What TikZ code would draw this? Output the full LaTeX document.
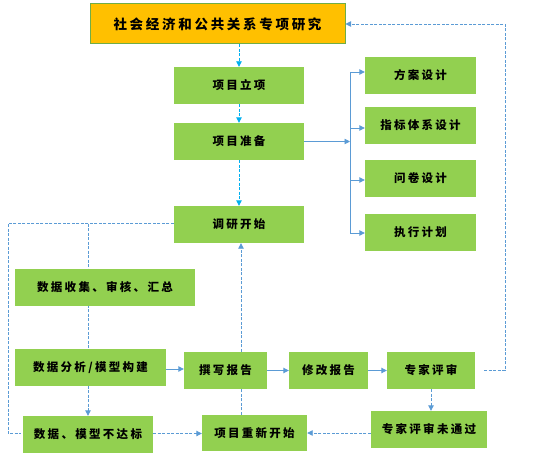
\documentclass[tikz,border=0pt]{standalone}
\usepackage{fontspec}
\setmainfont{Noto Sans CJK SC}[LetterSpace=20]
\usetikzlibrary{arrows.meta,backgrounds}
\definecolor{boxgreen}{HTML}{92D050}
\definecolor{topfill}{HTML}{FFC000}
\definecolor{topedge}{HTML}{70AD47}
\definecolor{lblue}{HTML}{5B9BD5}
\definecolor{cyanl}{HTML}{00B0F0}
\tikzset{
  gbox/.style={fill=boxgreen, draw=none, minimum height=37pt, inner sep=0pt, font=\fontsize{11.5pt}{13pt}\selectfont\bfseries},
  tip/.style={-{Triangle[width=5.5pt,length=5.5pt]}},
  solidcon/.style={draw=lblue, line width=0.9pt},
  dashcon/.style={draw=lblue, line width=0.9pt, dash pattern=on 3pt off 1.5pt},
  cyancon/.style={draw=cyanl, line width=0.9pt, dash pattern=on 3pt off 1.5pt},
}
\begin{document}
\begin{tikzpicture}[x=1pt,y=-1pt]
\useasboundingbox (0,0) rectangle (554,460);
\node[fill=topfill, draw=topedge, line width=1pt, minimum width=255pt, minimum height=40pt, inner sep=0pt, font=\fontsize{13.5pt}{15pt}\selectfont\bfseries] (top) at (217.5,24) {社会经济和公共关系专项研究};
\node[gbox, minimum width=130pt] (lix) at (239,85.5) {项目立项};
\node[gbox, minimum width=130pt] (zhunbei) at (239,141.5) {项目准备};
\node[gbox, minimum width=130pt] (diaoyan) at (239,224.5) {调研开始};
\node[gbox, minimum width=111pt] (fangan) at (420.5,75.5) {方案设计};
\node[gbox, minimum width=111pt] (zhibiao) at (420.5,125.5) {指标体系设计};
\node[gbox, minimum width=111pt] (wenjuan) at (420.5,178.5) {问卷设计};
\node[gbox, minimum width=111pt] (zhixing) at (420.5,232) {执行计划};
\node[gbox, minimum width=180pt] (shouji) at (105,287.5) {数据收集、审核、汇总};
\node[gbox, minimum width=151pt] (fenxi) at (90.5,367.5) {数据分析/模型构建};
\node[gbox, minimum width=83pt] (zhuanxie) at (225.5,370.5) {撰写报告};
\node[gbox, minimum width=79pt] (xiugai) at (328.5,370.5) {修改报告};
\node[gbox, minimum width=88pt] (pingshen) at (431,370.5) {专家评审};
\node[gbox, minimum width=130pt] (budabiao) at (88,434.5) {数据、模型不达标};
\node[gbox, minimum width=105pt, minimum height=36pt] (chongxin) at (254.5,433) {项目重新开始};
\node[gbox, minimum width=116pt] (weitongguo) at (429,429.5) {专家评审未通过};

\coordinate (bx) at (350,0);
\coordinate (loopx) at (505,0);
\coordinate (leftx) at (8,0);

% top chain
\draw[cyancon, tip] (lix.north |- top.south) -- (lix.north);
\draw[cyancon, tip] (lix.south) -- (zhunbei.north);
\draw[cyancon, tip] (zhunbei.south) -- (diaoyan.north);

% bracket
\draw[solidcon, tip] (zhunbei.east) -- (bx |- zhunbei.east);
\draw[solidcon] ([yshift=3.5pt]bx |- fangan.west) -- ([yshift=-1pt]bx |- zhixing.west);
\draw[solidcon, tip] ([yshift=3.5pt]bx |- fangan.west) -- ([yshift=3.5pt]fangan.west);
\draw[solidcon, tip] ([yshift=-2.5pt]bx |- zhibiao.west) -- ([yshift=-2.5pt]zhibiao.west);
\draw[solidcon, tip] ([yshift=-1.5pt]bx |- wenjuan.west) -- ([yshift=-1.5pt]wenjuan.west);
\draw[solidcon, tip] ([yshift=-1pt]bx |- zhixing.west) -- ([yshift=-1pt]zhixing.west);

% loop back to top
\draw[dashcon, tip] ([xshift=9pt]pingshen.east) -- (loopx |- pingshen.east) -- (loopx |- top.east) -- (top.east);

% bottom row
\draw[solidcon, tip] ([yshift=-1.5pt]fenxi.east) -- ([yshift=-1.5pt]zhuanxie.west |- fenxi.east);
\draw[solidcon, tip] (zhuanxie.east) -- (xiugai.west);
\draw[solidcon, tip] (xiugai.east) -- (pingshen.west);
\draw[dashcon, tip] (pingshen.south) -- (pingshen.south |- weitongguo.north);
\draw[dashcon, tip] (weitongguo.west |- chongxin.east) -- (chongxin.east);
\draw[dashcon, tip] ([yshift=1pt]budabiao.east) -- ([yshift=1pt]chongxin.west |- budabiao.east);

\begin{pgfonlayer}{background}
\draw[dashcon] ([yshift=1pt]diaoyan.west) -- ([yshift=1pt]leftx |- diaoyan.west) -- ([yshift=1pt]leftx |- budabiao.west) -- ([xshift=-1.5pt,yshift=1pt]budabiao.west);
\draw[dashcon, tip] ([yshift=1pt]budabiao.north |- diaoyan.west) -- (budabiao.north);
\draw[dashcon, tip] ([xshift=2pt]diaoyan.south |- chongxin.north) -- ([xshift=2pt]diaoyan.south);
\end{pgfonlayer}
\end{tikzpicture}
\end{document}
